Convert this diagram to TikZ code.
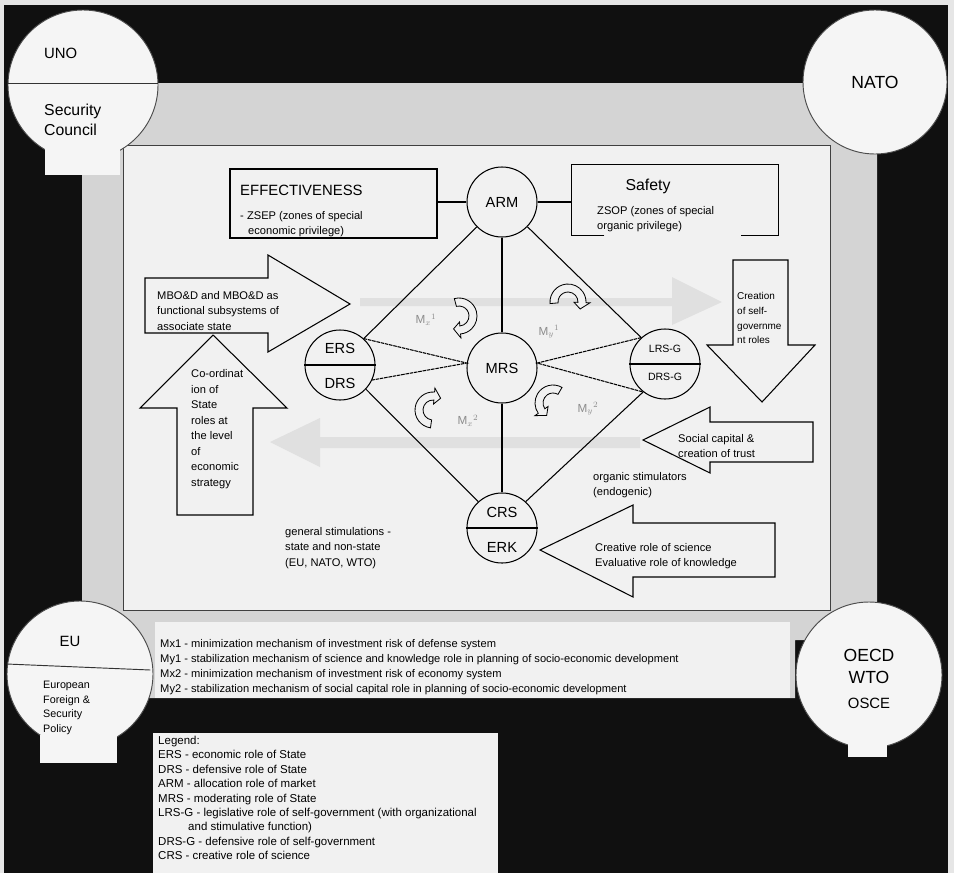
\documentclass[tikz,border=0pt]{standalone}
\usepackage{fontspec}
\setmainfont{Liberation Sans}
\usetikzlibrary{calc}

\definecolor{paper}{HTML}{E6E6E6}
\definecolor{scanblack}{HTML}{101010}
\definecolor{framegray}{HTML}{D4D4D4}
\definecolor{panel}{HTML}{F1F1F1}
\definecolor{ghost}{HTML}{E0E0E0}
\definecolor{mgray}{HTML}{8C8C8C}

\newcommand{\hollowarr}[4]{%
  \pgfmathsetmacro\hsg{sign(#4-#3)}%
  \pgfmathsetmacro\htip{#4+28*\hsg}%
  \filldraw[fill=panel, draw=black, line width=0.7pt, line join=miter]
    ({#1+18*cos(#3)},{#2+18*sin(#3)}) arc[start angle=#3, end angle=#4, radius=18]
    -- ({#1+22*cos(#4)},{#2+22*sin(#4)})
    -- ({#1+14*cos(\htip)},{#2+14*sin(\htip)})
    -- ({#1+6*cos(#4)},{#2+6*sin(#4)})
    -- ({#1+10*cos(#4)},{#2+10*sin(#4)})
    arc[start angle=#4, end angle=#3, radius=10] -- cycle;}

\begin{document}
\begin{tikzpicture}[x=0.3mm, y=-0.3mm,
  org/.style={circle, draw=black!70, line width=0.8pt, fill=white!96!black, inner sep=0},
  role/.style={circle, draw=black, line width=0.9pt, fill=panel, minimum size=21mm, inner sep=0, font=\fontsize{12.5}{14}\selectfont},
  rolelab/.style={inner sep=0, font=\fontsize{12.5}{14}\selectfont},
  smallrole/.style={inner sep=0, font=\fontsize{9}{11}\selectfont},
  title/.style={inner sep=0, font=\fontsize{12.7}{15}\selectfont},
  note/.style={inner sep=0, align=left, font=\fontsize{9.5}{13.2}\selectfont},
  box/.style={rectangle, draw=black, line width=0.9pt, fill=panel, inner sep=0},
  blockarrow/.style={draw=black, line width=0.9pt, fill=panel, line join=miter},
  link/.style={draw=black, line width=0.9pt},
  wedge/.style={link, dash pattern=on 3pt off 0.7pt},
  mlab/.style={text=mgray, inner sep=0, font=\fontsize{10}{12}\selectfont}
]
\useasboundingbox (0,0) rectangle (954,873);
\fill[paper] (0,0) rectangle (954,873);
\fill[scanblack] (4,5) rectangle (948,873);
\fill[framegray] (82,83) -- (877,83) -- (877,640) -- (795,640) -- (795,698) -- (82,698) -- cycle;
\draw[fill=panel, draw=black!75, line width=0.8pt] (123,145) rectangle (830,610);
\fill[panel] (155,622) rectangle (790,698);
\fill[panel] (153,733) rectangle (498,873);

\fill[ghost] (360,298) -- (672,298) -- (672,277) -- (722,302) -- (672,325) -- (672,306) -- (360,306) -- cycle;
\fill[ghost] (640,437) -- (320,437) -- (320,418) -- (270,442) -- (320,467) -- (320,448) -- (640,448) -- cycle;

% organisations round the frame
\node[org, minimum size=45mm] (uno) at (83,85) {};
\fill[white!96!black] (45,140) rectangle (120,175);
\draw[black!80, line width=0.8pt] ($(uno.west)+(0,-2)$) -- ($(uno.east)+(0,-2)$);
\node[anchor=west, inner sep=0, font=\fontsize{12.7}{15}\selectfont] (unolab) at (44,53) {UNO};
\node[anchor=west, inner sep=0, align=left, font=\fontsize{13.5}{17}\selectfont] (unosub) at (44,120) {Security\\Council};

\node[org, minimum size=43.2mm, font=\fontsize{15}{18}\selectfont] (nato) at (875,82) {NATO};

\node[org, minimum size=43.8mm] (eu) at (80,674) {};
\fill[white!96!black] (40,735) rectangle (117,763);
\draw[black!80, line width=0.8pt] ($(eu.west)+(0,-10)$) -- ($(eu.east)+(-3,-4)$);
\node[inner sep=0, font=\fontsize{12.7}{15}\selectfont] (eulab) at (70,641) {EU};
\node[anchor=west, inner sep=0, align=left, font=\fontsize{9.2}{12.5}\selectfont] (eusub) at (43,708) {European\\Foreign \&\\Security\\Policy};

\node[org, minimum size=43.8mm] (oecd) at (869,675) {};
\fill[white!96!black] (848,735) rectangle (887,757);
\node[inner sep=0, font=\fontsize{15}{18}\selectfont] (oecdlab) at (869,655) {OECD};
\node[inner sep=0, font=\fontsize{15}{18}\selectfont] (wtolab) at (869,677) {WTO};
\node[inner sep=0, font=\fontsize{12.7}{15}\selectfont] (oscelab) at (869,703) {OSCE};

% boxes
\node[box, minimum width=62.1mm, minimum height=20.7mm] (effect) at (333.5,203.5) {};
\node[title, anchor=west] (efftitle) at (240,190) {EFFECTIVENESS};
\node[note, anchor=west] (effnote) at (240,224) {- ZSEP (zones of special\\\hspace*{2.4mm}economic privilege)};

\node[box, draw=none, minimum width=61.8mm, minimum height=21mm] (safety) at (675,200) {};
\draw[link] ($(safety.south west)+(33,0)$) -- (safety.south west) -- (safety.north west)
  -- (safety.north east) -- (safety.south east) -- ($(safety.south east)+(-38,0)$);
\node[title, font=\fontsize{13.5}{16}\selectfont] (safetytitle) at (648,186) {Safety};
\node[note, anchor=west] (safetynote) at (597,219) {ZSOP (zones of special\\organic privilege)};

% block arrows
\draw[blockarrow] (145,278) -- (268,278) -- (268,255) -- (350,304) -- (268,352) -- (268,333) -- (145,333) -- cycle;
\node[note, anchor=west] (mbodtext) at (157,311) {MBO\&D and MBO\&D as\\functional subsystems of\\associate state};

\draw[blockarrow] (177,515) -- (177,408) -- (140,408) -- (213,335) -- (287,408) -- (253,408) -- (253,515) -- cycle;
\node[note, anchor=west] (coordtext) at (191,429) {Co-ordinat\\ion of\\State\\roles at\\the level\\of\\economic\\strategy};

\draw[blockarrow] (733,260) -- (788,260) -- (788,345) -- (815,345) -- (762,402) -- (707,345) -- (733,345) -- cycle;
\node[note, anchor=west, font=\fontsize{8.5}{12.7}\selectfont] (creationtext) at (737,318) {Creation\\of self-\\governme\\nt roles};

\draw[blockarrow] (813,422) -- (710,422) -- (710,407) -- (643,440) -- (710,473) -- (710,462) -- (813,462) -- cycle;
\node[note, anchor=west] (socialtext) at (678,446) {Social capital \&\\creation of trust};

\draw[blockarrow] (775,523) -- (633,523) -- (633,505) -- (540,550) -- (633,597) -- (633,577) -- (775,577) -- cycle;
\node[note, anchor=west] (creativetext) at (595,556) {Creative role of science\\Evaluative role of knowledge};

\node[note, anchor=west] (generaltext) at (285,548) {general stimulations -\\state and non-state\\(EU, NATO, WTO)};
\node[note, anchor=west] (organictext) at (593,485) {organic stimulators\\(endogenic)};

% roles
\node[role] (arm) at (502,202) {ARM};
\node[role] (mrs) at (502,368) {MRS};
\node[role] (ers) at (340,365) {};
\node[role] (lrs) at (665,364) {};
\node[role] (crs) at (502,528) {};
\node[rolelab] (erslab) at (340,348) {ERS};
\node[rolelab] (drslab) at (340,383) {DRS};
\node[smallrole] (lrslab) at (665,349) {LRS-G};
\node[smallrole] (drsglab) at (665,377) {DRS-G};
\node[rolelab] (crslab) at (502,512) {CRS};
\node[rolelab] (erklab) at (502,547) {ERK};
\draw[link] (ers.west) -- (ers.east);
\draw[link] (lrs.west) -- (lrs.east);
\draw[link] (crs.west) -- (crs.east);

\draw[link] (effect.east |- arm) -- (arm);
\draw[link] (arm) -- (arm -| safety.west);
\draw[link] (arm) -- (mrs);
\draw[link] (mrs) -- (crs);
\draw[link] (arm) -- (ers.48);
\draw[link] (arm) -- (lrs.132);
\draw[wedge] (ers.48) -- (mrs.172) -- (ers.-25);
\draw[wedge] (lrs.132) -- (mrs.8) -- (lrs.232);
\draw[link] (ers.-43) -- (crs.132);
\draw[link] (lrs.232) -- (crs.48);

% mechanisms
\hollowarr{459}{316}{-105}{85}
\hollowarr{568}{302}{175}{362}
\hollowarr{433}{410}{98}{275}
\hollowarr{553}{403}{-60}{-215}
\node[mlab] (mx1) at (426,320) {M$_{x}{}^{1}$};
\node[mlab] (my1) at (549,332) {M$_{y}{}^{1}$};
\node[mlab] (mx2) at (468,421) {M$_{x}{}^{2}$};
\node[mlab] (my2) at (588,409) {M$_{y}{}^{2}$};

% lists
\node[note, anchor=west, font=\fontsize{9.5}{12.75}\selectfont] (mech) at (160,667) {Mx1 - minimization mechanism of investment risk of defense system\\My1 - stabilization mechanism of science and knowledge role in planning of socio-economic development\\Mx2 - minimization mechanism of investment risk of economy system\\My2 - stabilization mechanism of social capital role in planning of socio-economic development};
\node[note, anchor=west, font=\fontsize{9.8}{12.3}\selectfont] (legend) at (158,798) {Legend:\\ERS - economic role of State\\DRS - defensive role of State\\ARM - allocation role of market\\MRS - moderating role of State\\LRS-G - legislative role of self-government (with\ organizational\\\hspace*{9mm}and stimulative function)\\DRS-G - defensive role of self-government\\CRS - creative role of science};
\end{tikzpicture}
\end{document}
